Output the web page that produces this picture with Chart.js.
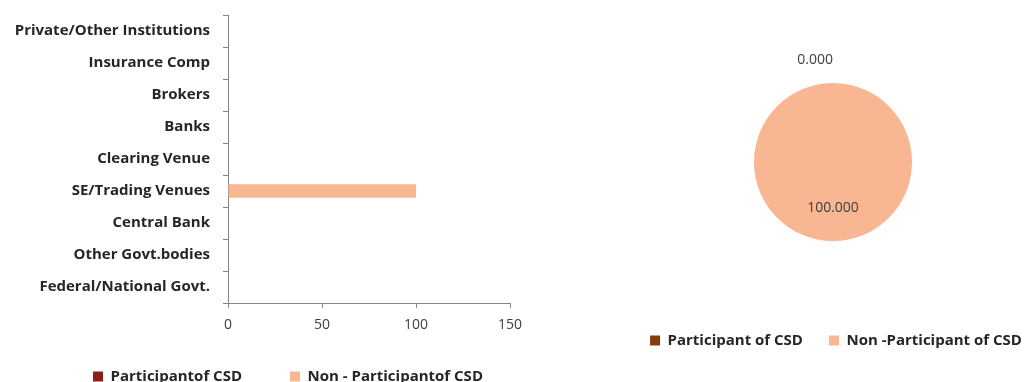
<!DOCTYPE html>
<html>
<head>
<meta charset="utf-8">
<script src="https://cdn.jsdelivr.net/npm/chart.js@4"></script>
<style>
  html, body { margin: 0; padding: 0; background: #fff; width: 1024px; height: 382px; overflow: hidden; position: relative; }
  #barWrap { position: absolute; left: 0; top: 0; width: 582px; height: 382px; overflow: hidden; }
  #pieWrap { position: absolute; left: 570px; top: 0; width: 520px; height: 358px; }
</style>
</head>
<body>
<div id="barWrap"><canvas id="bar" width="582" height="394"></canvas></div>
<div id="pieWrap"><canvas id="pie" width="520" height="358"></canvas></div>
<script>
// bar chart data (Excel order: first category sits at the bottom)
const categories = [
  "Federal/National Govt.",
  "Other Govt.bodies",
  "Central Bank",
  "SE/Trading Venues",
  "Clearing Venue",
  "Banks",
  "Brokers",
  "Insurance Comp",
  "Private/Other Institutions"
];
const participantValues = [0, 0, 0, 0, 0, 0, 0, 0, 0];
const nonParticipantValues = [0, 0, 0, 100, 0, 0, 0, 0, 0];
const xTicks = [0, 50, 100, 150];

// pie chart data
const pieLabels = ["Participant of CSD", "Non -Participant of CSD"];
const pieValues = [0, 100];

const FONT = "'Open Sans'";
const salmon = "#F8B692";

Chart.defaults.font.family = FONT;
Chart.defaults.animation = false;

// small layout nudges: let x tick labels out of the clip box, move legend right
const barLayoutTweak = {
  id: "barLayoutTweak",
  afterLayout(chart) {
    const x = chart.scales.x;
    x.bottom = x.top + 50;
    chart.legend.left += 33;
    chart.legend.right += 33;
  }
};

new Chart(document.getElementById("bar"), {
  type: "bar",
  data: {
    labels: categories,
    datasets: [
      {
        label: "Participantof CSD",
        data: participantValues,
        backgroundColor: "#8B1E1E",
        barPercentage: 0.42,
        categoryPercentage: 1
      },
      {
        label: "Non - Participantof CSD",
        data: nonParticipantValues,
        backgroundColor: salmon,
        barPercentage: 0.42,
        categoryPercentage: 1
      }
    ]
  },
  options: {
    indexAxis: "y",
    responsive: false,
    layout: { padding: { top: 15, right: 72, left: 0, bottom: 0 } },
    scales: {
      x: {
        stacked: true,
        min: 0,
        max: 150,
        afterBuildTicks: (s) => { s.ticks = xTicks.map((v) => ({ value: v })); },
        afterFit: (s) => { s.height = 18; },
        border: { color: "#868686", width: 1 },
        grid: { drawOnChartArea: false, tickLength: 5, color: "#868686" },
        ticks: { color: "#404040", font: { size: 14 }, padding: 9, maxRotation: 0 }
      },
      y: {
        stacked: true,
        reverse: true,
        afterFit: (s) => { s.width = 228; s.paddingTop = 0; s.paddingBottom = 0; },
        border: { color: "#868686", width: 1 },
        grid: { drawOnChartArea: false, tickLength: 5, offset: true, color: "#868686" },
        ticks: { color: "#262626", font: { size: 15, weight: "bold" }, padding: 13 }
      }
    },
    plugins: {
      legend: {
        position: "bottom",
        labels: {
          boxWidth: 10,
          boxHeight: 10,
          padding: 48,
          color: "#262626",
          font: { size: 15, weight: "bold" }
        }
      },
      tooltip: { enabled: false }
    }
  },
  plugins: [barLayoutTweak]
});

// value labels on the pie, placed from each arc's own geometry
const pieValueLabels = {
  id: "pieValueLabels",
  afterDatasetsDraw(chart) {
    const ctx = chart.ctx;
    const meta = chart.getDatasetMeta(0);
    ctx.save();
    ctx.font = "14px " + FONT;
    ctx.fillStyle = "#404040";
    ctx.textBaseline = "middle";
    meta.data.forEach((arc, i) => {
      const v = chart.data.datasets[0].data[i];
      const p = arc.getProps(["x", "y", "startAngle", "endAngle", "outerRadius"], true);
      const mid = (p.startAngle + p.endAngle) / 2;
      let r;
      if (v === 0) {
        r = p.outerRadius + 23;
        ctx.textAlign = "right";
      } else {
        r = p.outerRadius * 0.58;
        ctx.textAlign = "center";
      }
      ctx.fillText(v.toFixed(3), p.x + Math.cos(mid) * r, p.y + Math.sin(mid) * r);
    });
    ctx.restore();
  }
};

// pie legend sits well below the pie: push it down into the bottom padding
const pieLegendShift = {
  id: "pieLegendShift",
  afterLayout(chart) {
    const lg = chart.legend;
    lg.top += 66;
    lg.bottom += 66;
    lg.left += 3;
    lg.right += 3;
  }
};

new Chart(document.getElementById("pie"), {
  type: "pie",
  data: {
    labels: pieLabels,
    datasets: [{
      data: pieValues,
      backgroundColor: ["#843C0C", salmon],
      borderWidth: 0
    }]
  },
  options: {
    responsive: false,
    layout: { padding: { top: 83, bottom: 66, left: 20, right: 14 } },
    plugins: {
      legend: {
        position: "bottom",
        labels: {
          boxWidth: 10,
          boxHeight: 10,
          padding: 26,
          color: "#262626",
          font: { size: 15, weight: "bold" }
        }
      },
      tooltip: { enabled: false }
    }
  },
  plugins: [pieValueLabels, pieLegendShift]
});
</script>
</body>
</html>
